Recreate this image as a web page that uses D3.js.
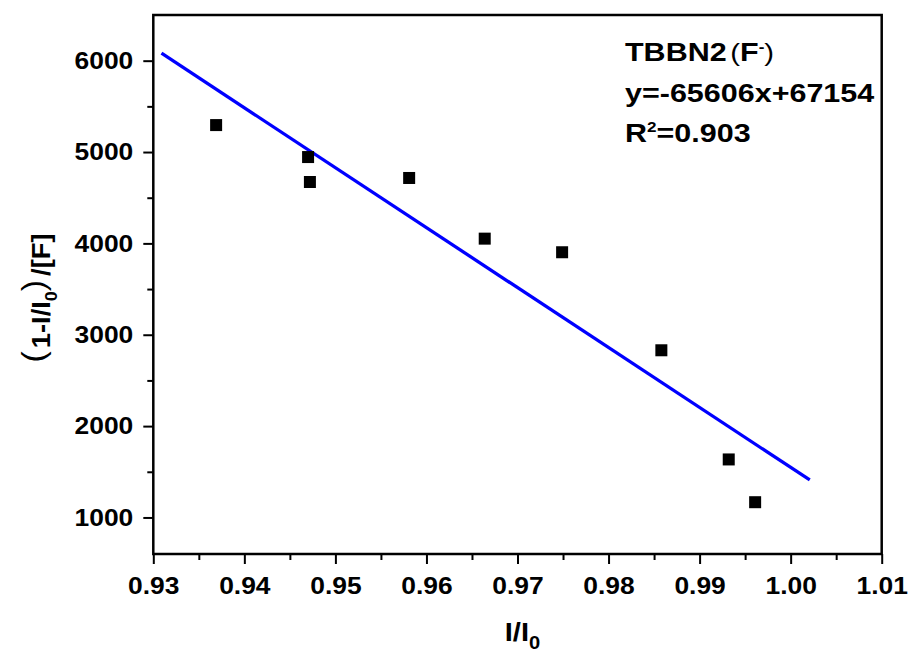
<!DOCTYPE html>
<html><head><meta charset="utf-8">
<script src="https://cdn.jsdelivr.net/npm/d3@7/dist/d3.min.js"></script>
<style>body{margin:0;background:#fff}svg{display:block}</style>
</head><body>
<svg id="chart" width="911" height="653"></svg>
<script>
// ---- data ----
const xValues = [0.9369, 0.9470, 0.9472, 0.9581, 0.9664, 0.9749, 0.9858, 0.9932, 0.9961];
const yValues = [5295, 4945, 4672, 4716, 4052, 3903, 2830, 1635, 1167];
const xTicks = [0.93, 0.94, 0.95, 0.96, 0.97, 0.98, 0.99, 1.00, 1.01];
const xTickLabels = ["0.93", "0.94", "0.95", "0.96", "0.97", "0.98", "0.99", "1.00", "1.01"];
const xMinorTicks = [0.935, 0.945, 0.955, 0.965, 0.975, 0.985, 0.995, 1.005];
const yTicks = [1000, 2000, 3000, 4000, 5000, 6000];
const yTickLabels = ["1000", "2000", "3000", "4000", "5000", "6000"];
const yMinorTicks = [1500, 2500, 3500, 4500, 5500];
const fitSlope = -65606;
const fitIntercept = 67154;
const fitRange = [0.9309, 1.0021];
const seriesName = "TBBN2";
const equationText = "y=-65606x+67154";
const r2Text = "=0.903";

// ---- layout ----
const svg = d3.select("#chart");
const L = 153.3, R = 881.7, T = 15, B = 554;
const x = d3.scaleLinear().domain([0.93, 1.01]).range([L, R]);
const y = d3.scaleLinear().domain([600, 6500]).range([B, T]);
const FONT = "'Liberation Sans', Arial, sans-serif";

svg.append("rect").attr("width", 911).attr("height", 653).attr("fill", "#fff");

// minor ticks
const gxm = svg.append("g").attr("transform", `translate(0,${B})`)
  .call(d3.axisBottom(x).tickValues(xMinorTicks).tickSize(6).tickFormat(""));
const gym = svg.append("g").attr("transform", `translate(${L},0)`)
  .call(d3.axisLeft(y).tickValues(yMinorTicks).tickSize(6).tickFormat(""));
[gxm, gym].forEach(g => { g.select(".domain").remove(); g.selectAll("line").attr("stroke", "#000").attr("stroke-width", 2); });

// major ticks
const gx = svg.append("g").attr("transform", `translate(0,${B})`)
  .call(d3.axisBottom(x).tickValues(xTicks).tickSize(10).tickPadding(13).tickFormat((d, i) => xTickLabels[i]));
const gy = svg.append("g").attr("transform", `translate(${L},0)`)
  .call(d3.axisLeft(y).tickValues(yTicks).tickSize(10).tickPadding(8.2).tickFormat((d, i) => yTickLabels[i]));
[gx, gy].forEach(g => {
  g.select(".domain").remove();
  g.selectAll("line").attr("stroke", "#000").attr("stroke-width", 2);
  g.selectAll("text").attr("fill", "#000").style("font-family", FONT).style("font-size", "24px")
    .style("font-weight", "bold").attr("transform", "scale(1.1,1)");
});

// frame
svg.append("rect").attr("x", L).attr("y", T).attr("width", R - L).attr("height", B - T)
  .attr("fill", "none").attr("stroke", "#000").attr("stroke-width", 2.5);

// fit line
svg.append("path")
  .datum(fitRange.map(v => [v, fitSlope * v + fitIntercept]))
  .attr("d", d3.line().x(d => x(d[0])).y(d => y(d[1])))
  .attr("fill", "none").attr("stroke", "#0000ff").attr("stroke-width", 3.3);

// points
svg.append("g").selectAll("rect").data(xValues.map((v, i) => [v, yValues[i]])).join("rect")
  .attr("x", d => x(d[0]) - 6).attr("y", d => y(d[1]) - 6)
  .attr("width", 12).attr("height", 12).attr("fill", "#000");

// annotation
const ann = svg.append("g").attr("transform", "translate(625,0) scale(1.22,1)")
  .style("font-family", FONT).style("font-size", "25px").style("font-weight", "bold").attr("fill", "#000");
const t1 = ann.append("text").attr("x", 0).attr("y", 61);
t1.append("tspan").text(seriesName);
t1.append("tspan").attr("dx", 3).style("font-weight", "normal").style("font-size", "24px").text("(");
t1.append("tspan").text("F");
t1.append("tspan").attr("dy", -9).style("font-size", "14px").text("-");
t1.append("tspan").attr("dy", 9).style("font-weight", "normal").style("font-size", "24px").text(")");
ann.append("text").attr("x", 0).attr("y", 102).text(equationText);
const t3 = ann.append("text").attr("x", 0).attr("y", 142);
t3.append("tspan").text("R");
t3.append("tspan").attr("dy", -10).style("font-size", "14px").text("2");
t3.append("tspan").attr("dy", 10).text(r2Text);

// x title
const xt = svg.append("text").attr("transform", "translate(522.5,641) scale(1.12,1)")
  .attr("text-anchor", "middle").style("font-family", FONT).style("font-size", "26px")
  .style("font-weight", "bold").attr("fill", "#000");
xt.append("tspan").text("I/I");
xt.append("tspan").attr("dy", 8).style("font-size", "18px").text("0");

// y title
const yt = svg.append("text").attr("transform", "translate(50,298) rotate(-90) scale(1.05,1)")
  .attr("text-anchor", "middle").style("font-family", FONT).style("font-size", "26px")
  .style("font-weight", "bold").attr("fill", "#000");
yt.append("tspan").attr("dy", -6).style("font-weight", "normal").style("font-size", "32px").text("(");
yt.append("tspan").attr("dx", 3).attr("dy", 6).text("1-I/I");
yt.append("tspan").attr("dy", 7).style("font-size", "17px").text("0");
yt.append("tspan").attr("dy", -13).style("font-weight", "normal").style("font-size", "32px").text(")");
yt.append("tspan").attr("dx", 4).attr("dy", 6).text("/[F]");
</script>
</body></html>
